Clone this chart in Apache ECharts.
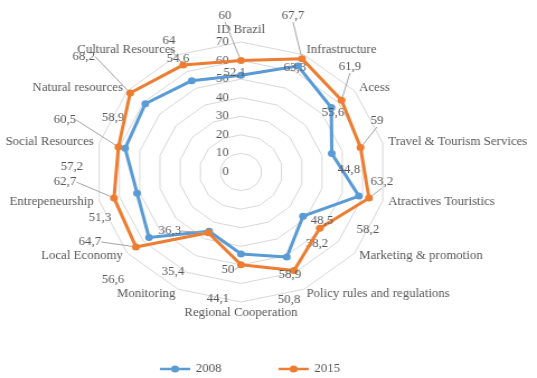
<!DOCTYPE html>
<html>
<head>
<meta charset="utf-8">
<script src="https://cdn.jsdelivr.net/npm/echarts@6/dist/echarts.min.js"></script>
<style>
html,body{margin:0;padding:0;overflow:hidden;background:#fff;width:537px;height:378px;}
#main{width:480px;height:378px;transform:scaleX(1.11875);transform-origin:0 0;}
</style>
</head>
<body>
<div id="main"></div>
<script>
// ---- data ----
const categories = ['ID Brazil','Infrastructure','Acess','Travel & Tourism Services','Atractives Touristics','Marketing & promotion','Policy rules and regulations','Regional Cooperation','Monitoring','Local Economy','Entrepeneurship','Social Resources','Natural resources','Cultural Resources'];
const values2008 = [52.1,63.3,55.6,44.8,58.2,38.2,50.8,44.1,35.4,56.6,51.3,57.2,58.9,54.6];
const values2015 = [60,67.7,61.9,59,63.2,48.5,58.9,50,36.3,64.7,62.7,60.5,68.2,64];
const seriesNames = ['2008','2015'];
const tickLabels = [0,10,20,30,40,50,60,70];

// ---- style: data label offsets (px) per category ----
const labelOffset2008 = [[-5.7,-2.3],[-2.8,1.4],[1.5,5.4],[15.4,16.5],[8.1,33.9],[12.4,27.8],[2,43],[-20.6,45.1],[-32.3,40.8],[-32.2,42.5],[-33.1,24.8],[-47.6,18.6],[-28.9,13.7],[-12.3,-21.6]];
const labelOffset2015 = [[-14.3,-44.6],[-8.1,-42.7],[7.5,-33.4],[14.7,-26.6],[11.6,-16.1],[2,-6.7],[-3.7,4.5],[-11.6,5.1],[-34.3,-1.7],[-41.1,-4.9],[-43.8,-15.9],[-47.8,-27],[-41.5,-36.5],[-12.9,-23.5]];

const colors = ['#5b9bd5','#ed7d31'];
const grey = '#595959';
const font = "'Liberation Serif', 'Times New Roman', serif";
const fs = 11.5;
const cx = 215.4, cy = 172, R = 130;
const n = categories.length;
// display clockwise starting at top
const order = [0].concat(categories.map((_, i) => i).slice(1).reverse());

const allValues = [values2008, values2015];
const offsets = [labelOffset2008, labelOffset2015];

function fmt(p) {
  const v = p.value;
  return (typeof v === 'number' && !isNaN(v)) ? String(v).replace('.', ',') : '';
}
function layoutFor(s) {
  return function (p) {
    const x = p.rect.x + p.rect.width / 2, y = p.rect.y + p.rect.height / 2;
    let a = Math.atan2(x - cx, cy - y);
    if (a < 0) a += 2 * Math.PI;
    const k = Math.round(a / (2 * Math.PI / n)) % n;
    const o = offsets[s][k];
    return { dx: o[0], dy: o[1] };
  };
}

const series = allValues.map((vals, s) => ({
  type: 'radar',
  z: 2 + s,
  symbol: 'circle',
  symbolSize: 7,
  lineStyle: { width: 3, color: colors[s] },
  itemStyle: { color: colors[s] },
  label: { show: true, position: 'inside', color: grey, fontFamily: font, fontSize: fs, formatter: fmt },
  labelLine: { show: s === 1, lineStyle: { color: '#a6a6a6', width: 1 } },
  labelLayout: layoutFor(s),
  data: [{ name: seriesNames[s], value: order.map(j => vals[j]) }]
}));

const legendIcon = 'path://M0,4H11V7H0Z M19,4H30V7H19Z M15,1.5A4,4 0 1 1 15,9.5A4,4 0 1 1 15,1.5Z';

const chart = echarts.init(document.getElementById('main'), null, { renderer: 'canvas' });
chart.setOption({
  animation: false,
  backgroundColor: '#fff',
  textStyle: { fontFamily: font },
  legend: {
    data: seriesNames.map(nm => ({ name: nm, icon: legendIcon })),
    left: 138, top: 358,
    itemWidth: 27, itemHeight: 7.2, itemGap: 51,
    itemStyle: { borderWidth: 0 },
    textStyle: { color: grey, fontFamily: font, fontSize: fs }
  },
  radar: {
    center: [cx, cy],
    radius: R,
    startAngle: 90,
    shape: 'polygon',
    splitNumber: tickLabels.length - 1,
    nameGap: 5,
    axisName: { color: grey, fontFamily: font, fontSize: fs },
    axisLine: { show: false },
    axisTick: { show: false },
    axisLabel: { show: false, color: grey, fontFamily: font, fontSize: fs, margin: 11 },
    splitLine: { lineStyle: { color: '#d9d9d9', width: 1 } },
    splitArea: { show: false },
    indicator: order.map((j, k) => {
      const ind = { name: categories[j], min: tickLabels[0], max: tickLabels[tickLabels.length - 1] };
      if (k === 0) ind.axisLabel = { show: true };
      return ind;
    })
  },
  series: series
});
</script>
</body>
</html>
